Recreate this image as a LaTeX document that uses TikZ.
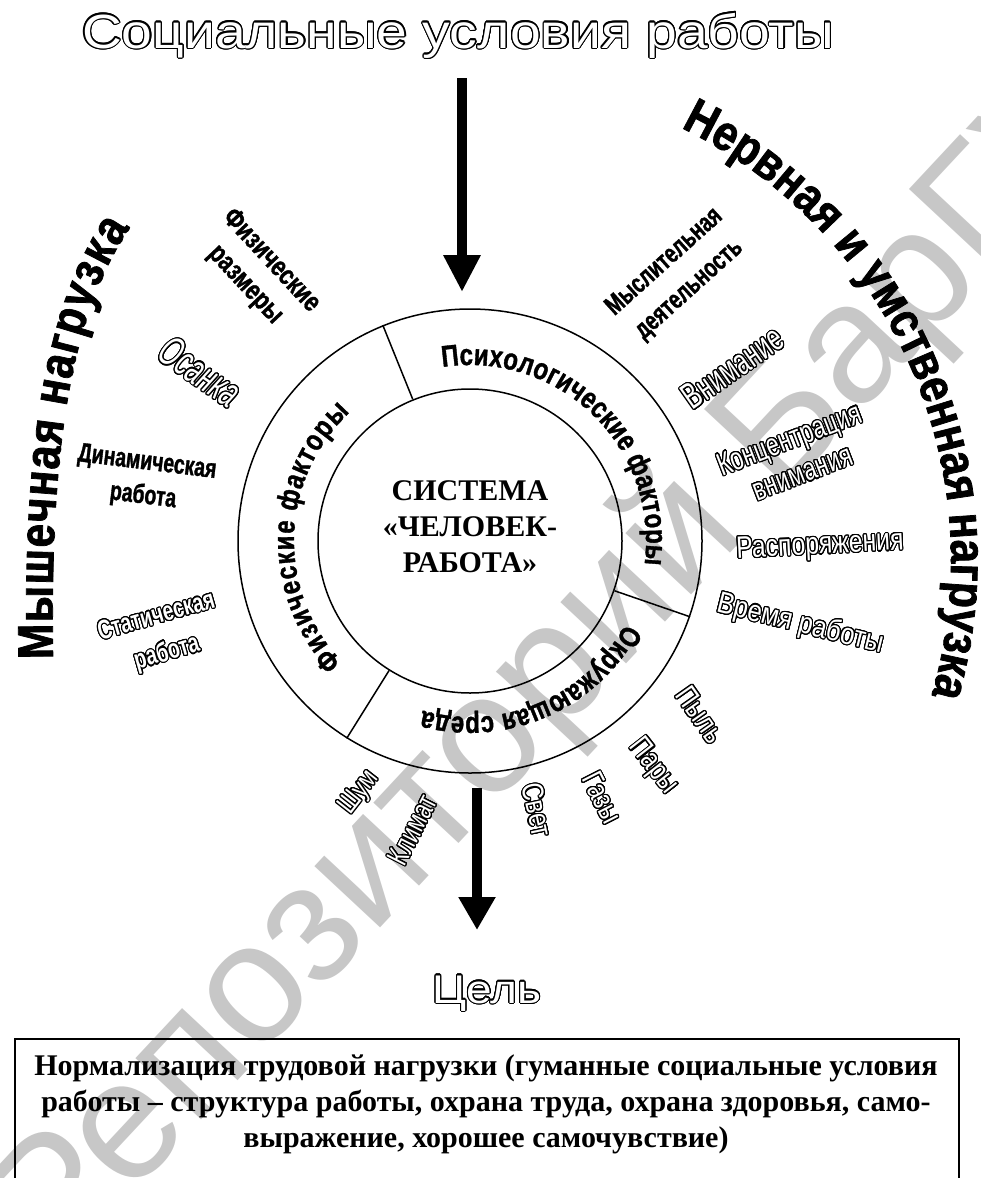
\documentclass[tikz,border=0pt]{standalone}
\usepackage{fontspec}
\setmainfont{Liberation Serif}
\newfontfamily\fRingB[FakeStretch=0.8, FakeBold=1.2]{Liberation Sans Bold}
\newfontfamily\fRing[FakeStretch=0.85]{Liberation Sans}
\newfontfamily\fBigB[FakeStretch=0.85, FakeBold=1.5]{Liberation Sans Bold}
\newfontfamily\fNarrow[FakeStretch=0.72]{Liberation Sans}
\newfontfamily\fNarrowB[FakeStretch=0.72, FakeBold=1.2]{Liberation Sans Bold}
\newfontfamily\fNarrowBh[FakeStretch=0.72]{Liberation Sans Bold}
\newfontfamily\fMidB[FakeStretch=0.78, FakeBold=1.2]{Liberation Sans Bold}
\newfontfamily\fMid[FakeStretch=0.8]{Liberation Sans}
\newfontfamily\fTall[FakeStretch=0.66]{Liberation Sans}
\newfontfamily\fItal[FakeStretch=0.62]{Liberation Sans Italic}
\newfontfamily\fWide[FakeStretch=1.15]{Liberation Sans}
\newfontfamily\fPlain{Liberation Sans}
\usepackage[copies]{contour}
\contourlength{1.1pt}
\contournumber{24}
\newcommand\hol[1]{\contour{black}{\textcolor{white}{#1}}}
\newcommand\ringf{\fRingB\fontsize{30}{32}\selectfont}
\newcommand\bigf{\fBigB\fontsize{50}{52}\selectfont}
\usetikzlibrary{decorations.text,arrows.meta,calc}
\tikzset{
  wm/.style={text=black!22, font=\fPlain\fontsize{170}{170}\selectfont, rotate=47, anchor=base west, inner sep=0pt},
  lab/.style={inner sep=0pt, align=center},
  bigarrow/.style={line width=10pt, -{Triangle[length=#1, width=35pt]}},
  ringline/.style={line width=1.5pt},
  arctext/.style={decorate, decoration={text along path, text={#1}, text align={fit to path}}},
}
\begin{document}
\begin{tikzpicture}[x=1pt,y=1pt]
\useasboundingbox (0,0) rectangle (980,-1178);
% watermark
\node[wm] (wmark) at (57,-1275) {Репозиторий БарГУ};

% title
\node[anchor=base, inner sep=0pt, font=\fWide\fontsize{48}{52}\selectfont] (title) at (458,-48) {\hol{Социальные условия работы}};

% arrows
\coordinate (topA) at (462,-78);
\coordinate (topB) at (462,-292);
\draw[bigarrow=37pt] (topA) -- (topB);
\coordinate (botA) at (477,-788);
\coordinate (botB) at (477,-930);
\draw[bigarrow=33pt] (botA) -- (botB);

% circles
\coordinate (C) at (470,-541);
\node[circle, draw, ringline, minimum size=464pt, inner sep=0pt] (ring) at (C) {};
\node[circle, draw, ringline, minimum size=304pt, inner sep=0pt] (core) at (C) {};
\draw[ringline] (core.112.5) -- (ring.112.5);
\draw[ringline] (core.-19) -- (ring.-19);
\draw[ringline] (core.238.5) -- (ring.238.5);

\node[lab, font=\bfseries\fontsize{30}{36}\selectfont] (sys) at (470,-527) {СИСТЕМА\\«ЧЕЛОВЕК-\\РАБОТА»};

% ring labels
\path[arctext={|\ringf|Психологические факторы}] ($(C)+(99:176)$) arc[start angle=99, end angle=-7.7, radius=176];
\path[arctext={|\ringf|Физические факторы}] ($(C)+(223.5:176)$) arc[start angle=223.5, end angle=133, radius=176];
\path[arctext={|\ringf|Окружающая среда}] ($(C)+(-28:176)$) arc[start angle=-28, end angle=-105.5, radius=176];

% big arcs
\path[arctext={|\bigf|Мышечная нагрузка}] (53,-659) .. controls (50,-470) and (66,-320) .. (130,-228);
\coordinate (C2) at (470,-560);
\path[arctext={|\bigf|Нервная и умственная нагрузка}] ($(C2)+(64:481)$) arc[start angle=64, end angle=-16, radius=481];

% left labels
\node[lab, rotate=-47, font=\fMidB\fontsize{28}{35}\selectfont] (fizr) at (258,-273) {Физические\\размеры};
\node[lab, rotate=-35, font=\fItal\fontsize{42}{46}\selectfont] (osanka) at (200,-372) {\hol{Осанка}};
\node[lab, rotate=-7, font=\fNarrowB\fontsize{27}{34}\selectfont] (dyn) at (145,-480) {Динамическая\\работа};
\node[lab, rotate=16, font=\fNarrowBh\fontsize{27}{38}\selectfont] (stat) at (162,-636) {\hol{Статическая}\\\hol{работа}};

% right labels
\node[lab, rotate=42, font=\fNarrowB\fontsize{27}{37}\selectfont] (mysl) at (677,-276) {Мыслительная\\деятельность};
\node[lab, rotate=35, font=\fTall\fontsize{37}{40}\selectfont] (vnim) at (733,-368) {\hol{Внимание}};
\node[lab, rotate=21, font=\fNarrow\fontsize{32}{36}\selectfont] (konc) at (796,-456) {\hol{Концентрация}\\\hol{внимания}};
\node[lab, rotate=3, font=\fMid\fontsize{31}{34}\selectfont] (rasp) at (820,-547) {\hol{Распоряжения}};
\node[lab, rotate=-14, font=\fRing\fontsize{30}{34}\selectfont] (vremya) at (800,-625) {\hol{Время работы}};

% bottom labels
\node[lab, rotate=-55, font=\fMid\fontsize{30}{34}\selectfont] (pyl) at (700,-715) {\hol{Пыль}};
\node[lab, rotate=-52, font=\fMid\fontsize{30}{34}\selectfont] (pary) at (653,-767) {\hol{Пары}};
\node[lab, rotate=-63, font=\fMid\fontsize{30}{34}\selectfont] (gazy) at (602,-798) {\hol{Газы}};
\node[lab, rotate=-78, font=\fMid\fontsize{30}{34}\selectfont] (svet) at (537,-810) {\hol{Свет}};
\node[lab, rotate=63, font=\fNarrow\fontsize{30}{34}\selectfont] (klimat) at (413,-830) {\hol{Климат}};
\node[lab, rotate=52, font=\fMid\fontsize{28}{32}\selectfont] (shum) at (360,-793) {\hol{Шум}};

% goal
\node[anchor=base, inner sep=0pt, font=\fWide\fontsize{40}{42}\selectfont] (goal) at (487,-1003) {\hol{Цель}};
\node[draw, line width=1.6pt, anchor=north west, minimum width=944pt, minimum height=146pt, inner sep=0pt] (box) at (14,-1038) {};
\node[lab, font=\bfseries\fontsize{30}{36}\selectfont] (boxtext) at (486,-1104) {Нормализация трудовой нагрузки (гуманные социальные условия\\работы – структура работы, охрана труда, охрана здоровья, само-\\выражение, хорошее самочувствие)};
\end{tikzpicture}
\end{document}
